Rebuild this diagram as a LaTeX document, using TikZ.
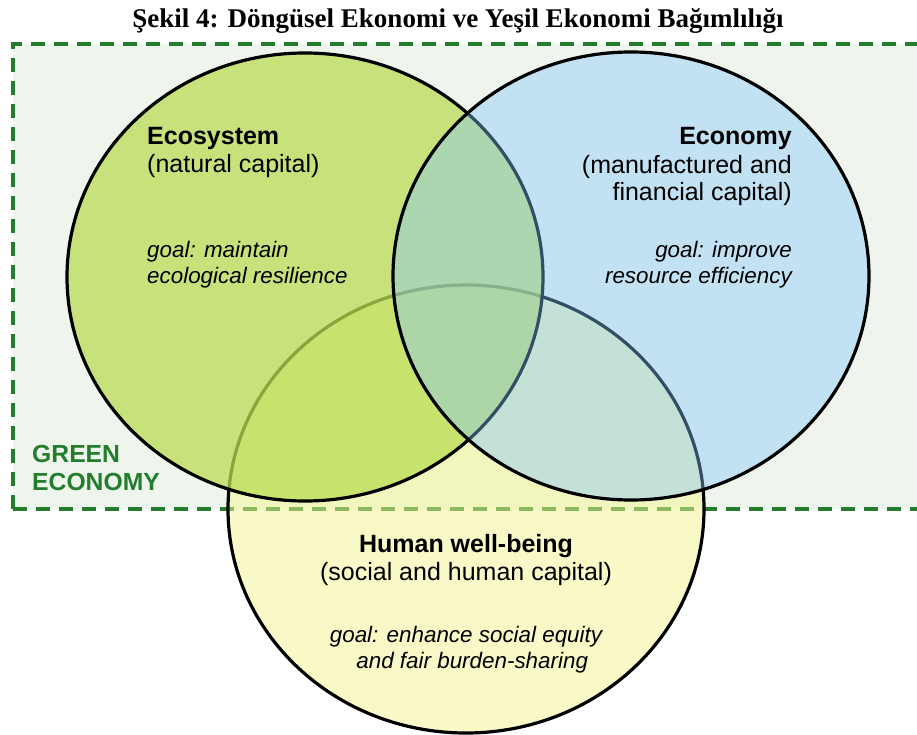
\documentclass[tikz,border=0pt]{standalone}
\usepackage{fontspec}
\setmainfont{Liberation Sans}
\newfontfamily\titlefont{Liberation Serif}
\definecolor{ecogreen}{RGB}{187,220,84}
\definecolor{econblue}{RGB}{130,197,255}
\definecolor{humanyellow}{RGB}{245,245,145}
\definecolor{geline}{RGB}{35,125,45}
\definecolor{gebg}{RGB}{238,245,236}

\begin{document}
\begin{tikzpicture}[x=1pt,y=-1pt,
  venn/.style={draw=black,line width=3.2pt},
  head/.style={inner sep=0pt,font=\fontsize{25}{28}\selectfont},
  goal/.style={inner sep=0pt,font=\fontsize{22.4}{26}\selectfont\itshape},
  border/.style={geline,line width=4pt,dash pattern=on 14pt off 9pt}]
\useasboundingbox (0,0) rectangle (917,735);
\fill[white] (0,0) rectangle (917,735);
\fill[gebg] (13,44) rectangle (930,509);
\draw[border] (13,509) -- (13,44) -- (930,44);
\draw[border] (13,509) -- (930,509);

\filldraw[venn,fill=humanyellow,fill opacity=0.5] (466,509) ellipse [x radius=238pt,y radius=224pt];
\filldraw[venn,fill=ecogreen,fill opacity=0.75] (305,277) ellipse [x radius=238pt,y radius=224pt];
\filldraw[venn,fill=econblue,fill opacity=0.4] (631,276) ellipse [x radius=238pt,y radius=224pt];

\node[inner sep=0pt,anchor=base,font=\titlefont\bfseries\fontsize{27}{30}\selectfont] (title) at (458,28) {Şekil 4: Döngüsel Ekonomi ve Yeşil Ekonomi Bağımlılığı};

\node[head,anchor=base west,align=left] (eco) at (147,173) {\textbf{Ecosystem}\\(natural capital)};
\node[goal,anchor=base west,align=left] (ecogoal) at (147,283) {goal: maintain\\ecological resilience};

\node[head,anchor=base east,align=right] (econ) at (792,201) {\textbf{Economy}\\(manufactured and\\financial capital)};
\node[goal,anchor=base east,align=right] (econgoal) at (792,283) {goal: improve\\resource efficiency};

\node[head,anchor=base,align=center] (human) at (466,580) {\textbf{Human well-being}\\(social and human capital)};
\node[goal,anchor=base,align=center] (humangoal) at (466,668) {goal: enhance social equity\\\ \ and fair burden-sharing};

\node[head,anchor=base west,align=left,text=geline,font=\fontsize{24.7}{28}\selectfont\bfseries] (green) at (32,490) {GREEN\\ECONOMY};
\end{tikzpicture}
\end{document}
